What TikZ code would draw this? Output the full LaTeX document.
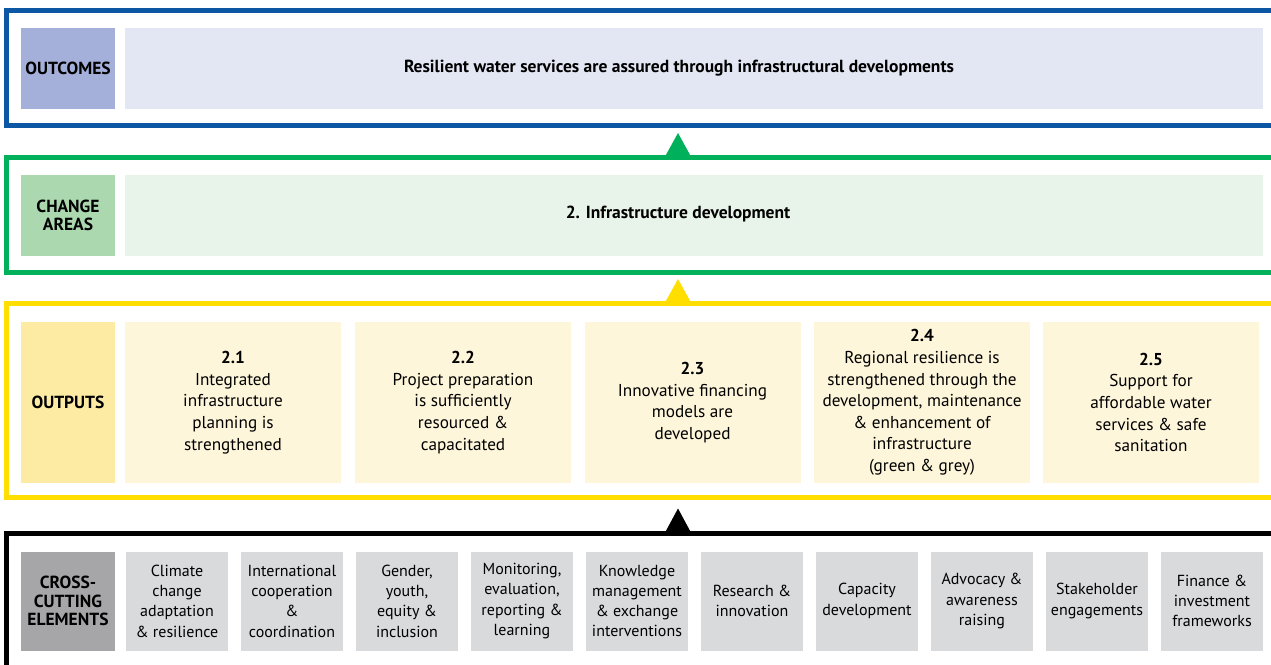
\documentclass[tikz,border=0pt]{standalone}
\usepackage{fontspec}
\setmainfont{PT Sans}
\usepackage{tikz}
\usetikzlibrary{positioning}

\definecolor{outblue}{RGB}{11,87,164}
\definecolor{outlabel}{RGB}{164,176,218}
\definecolor{outfill}{RGB}{227,231,244}
\definecolor{chgreen}{RGB}{0,176,90}
\definecolor{chlabel}{RGB}{172,216,176}
\definecolor{chfill}{RGB}{232,243,234}
\definecolor{opyellow}{RGB}{255,222,0}
\definecolor{oplabel}{RGB}{253,235,164}
\definecolor{opfill}{RGB}{254,246,218}
\definecolor{cclabel}{RGB}{166,166,168}
\definecolor{ccfill}{RGB}{217,218,220}

\begin{document}
\begin{tikzpicture}[line cap=butt,line join=miter,x=1pt,y=-1pt,
  frameline/.style={line width=5pt},
  labelbox/.style={inner sep=0pt,minimum width=94pt,align=center,font=\fontsize{17.5}{18}\selectfont\bfseries},
  barbox/.style={inner sep=0pt,minimum width=1138pt,minimum height=81pt},
  bartext/.style={font=\fontsize{17.5}{18}\selectfont\bfseries},
  outbox/.style={inner sep=0pt,minimum width=216pt,minimum height=161pt,fill=opfill,align=center,font=\fontsize{17.2}{21.6}\selectfont},
  ccbox/.style={inner sep=0pt,minimum width=102pt,minimum height=99pt,fill=ccfill,align=center,font=\fontsize{16}{20.3}\selectfont},
  uptri/.style={line width=0pt}]
\useasboundingbox (0,0) rectangle (1271,664);
\clip (0,0) rectangle (1271,664);
%\draw [red] (678,0)--(678,664);
% frames, open on the right
\draw [frameline,color=outblue] (1290,10.5)-- (6.5,10.5)-- (6.5,125.5)-- (1290,125.5);
\draw [frameline,color=chgreen] (1290,157.5)-- (6.5,157.5)-- (6.5,272.5)-- (1290,272.5);
\draw [frameline,color=opyellow] (1290,303.5)-- (6.5,303.5)-- (6.5,497.5)-- (1290,497.5);
\draw [frameline,color=black] (1290,533.5)-- (6.5,533.5)-- (6.5,700);
% outcomes
\node (outcomes) [labelbox,fill=outlabel,minimum height=81pt] at (68,68.5) {OUTCOMES};
\node (outcomebar) [barbox,fill=outfill] at (694,68.5) {};
\node (outcometext) [bartext] at (679,68.5) {Resilient water services are assured through infrastructural developments};
% change areas
\node (change) [labelbox,fill=chlabel,minimum height=81pt] at (68,215.5) {CHANGE\\AREAS};
\node (changebar) [barbox,fill=chfill] at (694,215.5) {};
\node (changetext) [bartext] at (678,214) {2. Infrastructure development};
% outputs
\node (outputs) [labelbox,fill=oplabel,minimum height=161pt] at (68,402.5) {OUTPUTS};
\node (out1) [outbox] at (233,402.5) {\textbf{2.1}\\Integrated\\infrastructure\\planning is\\strengthened};
\node (out2) [outbox] at (463,402.5) {\textbf{2.2}\\Project preparation\\is sufficiently\\resourced \&\\capacitated};
\node (out3) [outbox] at (692.5,402.5) {\textbf{2.3}\\Innovative financing\\models are\\developed};
\node (out4) [outbox] at (922,402.5) {\textbf{2.4}\\Regional resilience is\\strengthened through the\\development, maintenance\\\& enhancement of\\infrastructure\\(green \& grey)};
\node (out5) [outbox] at (1151,402.5) {\textbf{2.5}\\Support for\\affordable water\\services \& safe\\sanitation};
% cross-cutting elements
\node (cross) [labelbox,fill=cclabel,minimum height=99pt,font=\fontsize{17.5}{18.5}\selectfont\bfseries] at (68,601) {CROSS-\\CUTTING\\ELEMENTS};
\node (cc1) [ccbox] at (177,601) {Climate\\change\\adaptation\\\& resilience};
\node (cc2) [ccbox] at (292,601) {International\\cooperation\\\&\\coordination};
\node (cc3) [ccbox] at (407,601) {Gender,\\youth,\\equity \&\\inclusion};
\node (cc4) [ccbox] at (522,601) {Monitoring,\\evaluation,\\reporting \&\\learning};
\node (cc5) [ccbox] at (637,601) {Knowledge\\management\\\& exchange\\interventions};
\node (cc6) [ccbox] at (752,601) {Research \&\\innovation};
\node (cc7) [ccbox] at (867,601) {Capacity\\development};
\node (cc8) [ccbox] at (982,601) {Advocacy \&\\awareness\\raising};
\node (cc9) [ccbox] at (1097,601) {Stakeholder\\engagements};
\node (cc10) [ccbox] at (1212,601) {Finance \&\\investment\\frameworks};
% arrows between the levels
\coordinate (tipchange) at (678,133);
\coordinate (tipoutputs) at (678,279);
\coordinate (tipcross) at (678,508.5);
\fill [uptri,color=chgreen] (tipchange)-- ++(13.5,24.5)-- ++(-27,0)-- cycle;
\fill [uptri,color=opyellow] (tipoutputs)-- ++(13.5,24.5)-- ++(-27,0)-- cycle;
\fill [uptri,color=black] (tipcross)-- ++(13.5,25)-- ++(-27,0)-- cycle;
\end{tikzpicture}
\end{document}
